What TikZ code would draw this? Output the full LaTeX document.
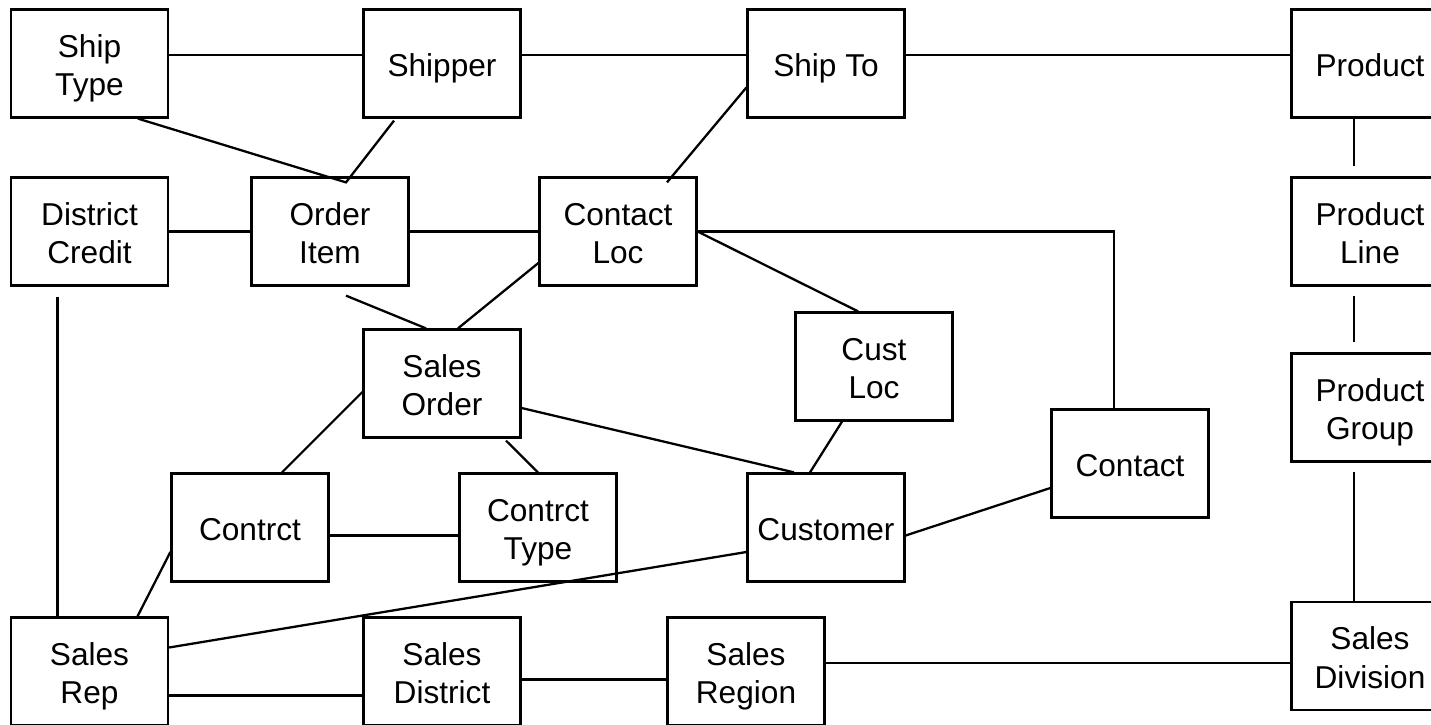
\documentclass[tikz,border=0pt]{standalone}
\usepackage{fontspec}
\setmainfont{Liberation Sans}
\usetikzlibrary{calc}

\tikzset{
    entity/.style={draw, line width=1.3pt, minimum width=3.14cm, minimum height=2.16cm,
        inner sep=0pt, align=center, font=\fontsize{18}{22}\selectfont, text depth=0pt},
    oneline/.style={entity, text height=14.6pt},
    twoline/.style={entity, text height=36.6pt},
    link/.style={line width=1.3pt}
}

\begin{document}
\begin{tikzpicture}[x=0.02cm, y=-0.02cm]
    \useasboundingbox (0,0) rectangle (1431,724);
    \clip (0,0) rectangle (1431,724);

    % Entity boxes
    \foreach \name/\x/\y/\kind/\txt in {
        shiptype/89.5/63.5/twoline/{Ship\\Type}, shipper/442/63.5/oneline/{Shipper},
        shipto/826/63.5/oneline/{Ship To}, product/1370/63.5/oneline/{Product},
        distcredit/89.5/231.5/twoline/{District\\Credit}, orderitem/330/231.5/twoline/{Order\\Item},
        contactloc/618/231.5/twoline/{Contact\\Loc}, prodline/1370/231.5/twoline/{Product\\Line},
        custloc/874/366.5/twoline/{Cust\\Loc}, salesorder/442/383.5/twoline/{Sales\\Order},
        prodgroup/1370/407.5/twoline/{Product\\Group}, contact/1130/463.5/oneline/{Contact},
        contrct/250/527.5/oneline/{Contrct}, contrcttype/538/527.5/twoline/{Contrct\\Type},
        customer/826/527.5/oneline/{Customer}, salesrep/89.5/671.5/twoline/{Sales\\Rep},
        salesdistrict/442/671.5/twoline/{Sales\\District}, salesregion/746/671.5/twoline/{Sales\\Region},
        salesdivision/1370/656/twoline/{Sales\\Division}} {
        \node[\kind] (\name) at (\x,\y) {\txt};
    }

    % Top row
    \draw[link] ($(shiptype.east)+(0,-8.5)$) -- ($(shipper.west)+(0,-8.5)$);
    \draw[link] ($(shipper.east)+(0,-8.5)$) -- ($(shipto.west)+(0,-8.5)$);
    \draw[link] ($(shipto.east)+(0,-8.5)$) -- ($(product.west)+(0,-8.5)$);

    % Shipping into order item and contact loc
    \coordinate (oi) at ($(orderitem.north)+(16,6)$);
    \draw[link] ($(shiptype.south)+(48.5,0)$) -- (oi) -- ($(shipper.south)+(-48,2)$);
    \draw[link] ($(shipto.west)+(0,24)$) -- ($(contactloc.north)+(49,6)$);

    % Second row
    \draw[link] (distcredit.east) -- (orderitem.west);
    \draw[link] (orderitem.east) -- (contactloc.west);
    \draw[link] (contactloc.east) -| ($(contact.north)+(-16,0)$);
    \draw[link] (contactloc.east) -- ($(custloc.north)+(-16,0)$);
    \draw[link] ($(contactloc.west)+(0,31.5)$) -- ($(salesorder.north)+(16,0)$);
    \draw[link] ($(orderitem.south)+(16,9)$) -- ($(salesorder.north)+(-16,0)$);
    \draw[link] ($(distcredit.south)+(-32,10)$) -- ($(salesrep.north)+(-32,0)$);

    % Around sales order and customer
    \draw[link] ($(salesorder.west)+(0,8.5)$) -- ($(contrct.north)+(32,0)$);
    \draw[link] ($(salesorder.south)+(64,2)$) -- (contrcttype.north);
    \draw[link] ($(salesorder.east)+(0,24.5)$) -- ($(customer.north)+(-32,0)$);
    \draw[link] ($(custloc.south)+(-32,0)$) -- ($(customer.north)+(-16,0)$);
    \draw[link] ($(customer.east)+(0,8)$) -- ($(contact.west)+(0,24.5)$);
    \draw[link] ($(contrct.east)+(0,8)$) -- ($(contrcttype.west)+(0,8)$);
    \draw[link] ($(contrct.west)+(0,24.5)$) -- ($(salesrep.north)+(48,0)$);
    \draw[link] ($(customer.west)+(0,24.5)$) -- ($(salesrep.east)+(0,-24)$);

    % Sales hierarchy
    \draw[link] ($(salesrep.east)+(0,24)$) -- ($(salesdistrict.west)+(0,24)$);
    \draw[link] ($(salesdistrict.east)+(0,8)$) -- ($(salesregion.west)+(0,8)$);
    \draw[link] ($(salesregion.east)+(0,-8.5)$) -- ($(salesdivision.west)+(0,7)$);

    % Product column
    \draw[link] ($(product.south)+(-16,0)$) -- ($(prodline.north)+(-16,-10)$);
    \draw[link] ($(prodline.south)+(-16,9)$) -- ($(prodgroup.north)+(-16,-10)$);
    \draw[link] ($(prodgroup.south)+(-16,9)$) -- ($(salesdivision.north)+(-16,0)$);
\end{tikzpicture}
\end{document}
